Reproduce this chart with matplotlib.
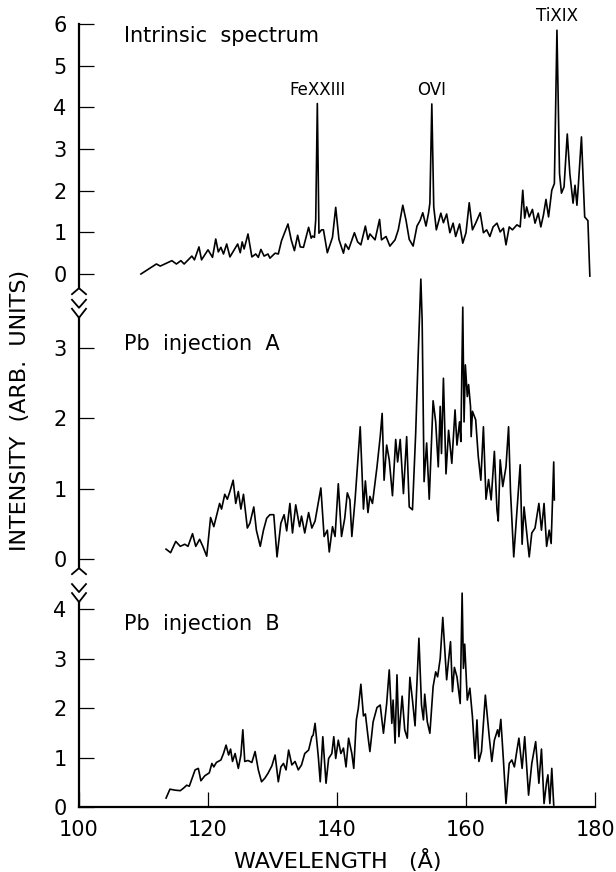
import matplotlib
matplotlib.use("Agg")
import matplotlib.pyplot as plt
import numpy as np

# intrinsic spectrum
wl_intr = [109.6, 112.0, 112.6, 114.4, 115.1, 115.8, 116.3, 117.5, 117.9, 118.6,
           119.0, 120.0, 120.7, 121.2, 121.6, 122.0, 122.4, 122.9, 123.4, 124.6,
           125.0, 125.3, 125.6, 126.2, 126.8, 127.4, 127.8, 128.2, 128.7, 129.3,
           129.6, 130.4, 130.9, 131.4, 132.4, 132.9, 133.4, 133.9, 134.3, 134.8,
           135.6, 136.0, 136.2, 136.5, 136.7, 136.95, 137.2, 137.6, 137.9, 138.5,
           139.3, 139.8, 140.3, 141.0, 141.3, 141.8, 142.7, 143.2, 143.7, 144.4,
           144.8, 145.1, 145.9, 146.6, 146.9, 147.6, 148.2, 149.0, 149.5, 150.2,
           150.7, 151.2, 151.8, 152.4, 152.9, 153.3, 153.8, 154.2, 154.4, 154.7,
           155.0, 155.4, 156.1, 156.5, 157.0, 157.5, 158.0, 158.4, 159.0, 159.5,
           160.0, 160.5, 161.0, 161.5, 162.2, 162.7, 163.2, 163.7, 164.2, 164.8,
           165.3, 165.8, 166.2, 166.7, 167.2, 167.9, 168.4, 168.8, 169.1, 169.4,
           169.8, 170.3, 170.7, 171.2, 171.6, 172.0, 172.4, 172.8, 173.3, 173.7,
           174.1, 174.5, 174.8, 175.2, 175.7, 176.1, 176.4, 176.6, 176.9, 177.2,
           177.4, 177.9, 178.4, 178.9, 179.2]
int_intr = [0.00, 0.24, 0.19, 0.32, 0.24, 0.32, 0.24, 0.43, 0.34, 0.65,
            0.34, 0.58, 0.40, 0.84, 0.53, 0.64, 0.48, 0.72, 0.41, 0.72,
            0.51, 0.77, 0.60, 0.96, 0.41, 0.48, 0.40, 0.59, 0.43, 0.48,
            0.38, 0.50, 0.48, 0.80, 1.20, 0.82, 0.56, 0.93, 0.65, 0.64,
            1.12, 0.86, 0.91, 0.88, 1.30, 4.09, 0.98, 1.06, 1.06, 0.51,
            0.88, 1.60, 0.83, 0.50, 0.72, 0.59, 0.99, 0.77, 0.70, 1.15,
            0.83, 0.96, 0.82, 1.31, 0.82, 0.90, 0.67, 0.82, 1.06, 1.65,
            1.29, 0.83, 0.67, 1.15, 1.29, 1.47, 1.15, 1.47, 1.70, 4.08,
            1.61, 1.06, 1.46, 1.23, 1.44, 0.99, 1.22, 0.90, 1.20, 0.74,
            0.99, 1.71, 1.06, 1.22, 1.47, 0.99, 1.06, 0.90, 1.13, 1.22,
            1.01, 1.10, 0.70, 1.13, 1.06, 1.18, 1.13, 2.01, 1.34, 1.61,
            1.37, 1.55, 1.22, 1.46, 1.13, 1.41, 1.79, 1.37, 2.01, 2.17,
            5.85, 2.41, 1.94, 2.09, 3.36, 2.41, 1.97, 1.70, 2.13, 1.65,
            2.09, 3.29, 1.37, 1.28, -0.05]

# Pb injection A
wl_a = [113.5, 114.2, 115.0, 115.7, 116.4, 116.9, 117.6, 118.1, 118.7, 119.2,
        119.8, 120.4, 120.9, 121.8, 122.1, 122.6, 123.0, 123.4, 123.9, 124.3,
        124.7, 125.1, 125.5, 126.1, 126.5, 127.1, 127.5, 128.1, 128.6, 129.1,
        129.6, 130.2, 130.7, 131.3, 131.8, 132.2, 132.7, 133.1, 133.6, 134.2,
        134.5, 135.0, 135.6, 136.1, 136.6, 137.5, 138.0, 138.5, 138.8, 139.3,
        139.7, 140.2, 140.7, 141.2, 141.6, 142.0, 142.3, 142.8, 143.6, 144.1,
        144.4, 144.8, 145.1, 145.5, 146.2, 146.7, 147.0, 147.3, 147.7, 148.1,
        148.6, 149.1, 149.4, 149.8, 150.3, 150.8, 151.2, 151.7, 152.2, 152.6,
        153.0, 153.2, 153.5, 153.9, 154.3, 154.9, 155.3, 155.7, 156.0, 156.2,
        156.5, 156.9, 157.3, 157.8, 158.3, 158.6, 159.0, 159.2, 159.5, 159.7,
        159.9, 160.2, 160.4, 160.7, 160.8, 161.0, 161.5, 161.9, 162.3, 162.7,
        163.1, 163.5, 163.9, 164.4, 164.8, 165.0, 165.3, 165.7, 166.2, 166.6,
        166.9, 167.4, 168.4, 168.7, 169.0, 169.8, 170.2, 170.7, 171.3, 171.7,
        172.1, 172.5, 172.9, 173.2, 173.6, 173.7]
int_a = [0.14, 0.09, 0.25, 0.18, 0.21, 0.18, 0.36, 0.18, 0.28, 0.18,
         0.04, 0.59, 0.46, 0.79, 0.71, 0.92, 0.85, 0.96, 1.12, 0.79,
         0.96, 0.71, 0.92, 0.44, 0.51, 0.74, 0.41, 0.18, 0.41, 0.58,
         0.63, 0.63, 0.03, 0.51, 0.63, 0.40, 0.79, 0.37, 0.77, 0.46,
         0.61, 0.37, 0.66, 0.44, 0.54, 1.01, 0.32, 0.41, 0.10, 0.46,
         0.32, 1.07, 0.32, 0.58, 0.94, 0.84, 0.32, 0.84, 1.88, 0.71,
         1.11, 0.66, 0.89, 0.79, 1.31, 1.74, 2.07, 1.12, 1.62, 1.41,
         0.90, 1.70, 1.38, 1.70, 0.93, 1.74, 0.74, 0.70, 1.79, 2.93,
         3.98, 3.40, 1.10, 1.65, 0.85, 2.25, 1.95, 1.31, 2.17, 1.50,
         2.57, 1.21, 1.83, 1.36, 2.12, 1.62, 1.95, 1.67, 3.58, 1.95,
         2.76, 2.31, 2.48, 2.17, 1.74, 2.10, 1.98, 1.46, 1.12, 1.88,
         0.85, 1.13, 0.84, 1.53, 0.70, 0.54, 1.41, 1.03, 1.31, 1.88,
         0.96, 0.03, 1.34, 0.21, 0.74, 0.03, 0.37, 0.44, 0.79, 0.41,
         0.79, 0.18, 0.41, 0.22, 1.38, 0.84]

# Pb injection B
wl_b = [113.5, 114.1, 114.9, 115.7, 116.2, 116.7, 117.1, 118.0, 118.5, 118.9,
        119.5, 120.2, 120.6, 120.9, 121.3, 122.0, 122.4, 122.8, 123.2, 123.5,
        123.8, 124.2, 124.7, 125.1, 125.4, 125.7, 126.2, 126.8, 127.3, 127.8,
        128.3, 128.8, 129.3, 129.9, 130.4, 130.9, 131.3, 131.7, 132.1, 132.5,
        133.0, 133.5, 134.0, 134.5, 135.0, 135.6, 136.1, 136.3, 136.6, 137.1,
        137.4, 137.8, 138.3, 138.7, 139.2, 139.5, 139.8, 140.2, 140.6, 141.0,
        141.4, 141.8, 142.3, 142.6, 143.0, 143.3, 143.7, 144.1, 144.4, 144.8,
        145.1, 145.6, 146.2, 146.7, 147.2, 147.7, 148.1, 148.5, 148.7, 149.0,
        149.3, 149.6, 150.1, 150.5, 150.9, 151.3, 151.7, 152.1, 152.7, 153.1,
        153.4, 153.6, 154.0, 154.4, 154.9, 155.3, 155.6, 156.0, 156.4, 156.8,
        157.0, 157.3, 157.6, 157.9, 158.2, 158.6, 159.1, 159.4, 159.6, 159.8,
        160.2, 160.6, 161.0, 161.4, 161.7, 162.0, 162.4, 163.0, 163.6, 164.0,
        164.4, 164.9, 165.1, 165.4, 165.8, 166.2, 166.7, 167.1, 167.5, 167.9,
        168.2, 168.7, 169.1, 169.7, 170.2, 170.8, 171.3, 171.7, 172.1, 172.5,
        172.7, 173.0, 173.3, 173.6]
int_b = [0.18, 0.36, 0.34, 0.33, 0.38, 0.44, 0.42, 0.75, 0.78, 0.53,
         0.63, 0.69, 0.88, 0.81, 0.90, 0.95, 1.08, 1.25, 1.05, 1.17,
         0.92, 1.08, 0.78, 1.05, 1.56, 0.92, 0.94, 0.90, 1.12, 0.75,
         0.51, 0.58, 0.68, 0.83, 1.05, 0.51, 0.81, 0.88, 0.75, 1.15,
         0.85, 0.92, 0.75, 0.85, 1.08, 1.15, 1.42, 1.45, 1.69, 1.02,
         0.51, 1.42, 0.48, 0.98, 1.08, 1.42, 0.98, 1.35, 1.08, 1.19,
         0.81, 1.39, 1.08, 0.78, 1.76, 1.99, 2.48, 1.84, 1.88, 1.43,
         1.12, 1.72, 2.01, 2.06, 1.49, 2.09, 2.77, 1.69, 2.16, 1.29,
         2.67, 1.42, 2.24, 1.56, 1.39, 2.62, 2.16, 1.64, 3.41, 2.06,
         1.76, 2.28, 1.72, 1.49, 2.43, 2.73, 2.63, 3.00, 3.83, 2.97,
         2.57, 2.97, 3.34, 2.33, 2.82, 2.63, 2.09, 4.32, 2.80, 3.29,
         2.16, 2.40, 1.82, 0.98, 1.76, 0.92, 1.12, 2.26, 1.42, 0.92,
         1.35, 1.56, 1.42, 1.77, 0.95, 0.07, 0.88, 0.95, 0.81, 1.15,
         1.39, 0.78, 1.42, 0.24, 0.88, 1.32, 0.48, 1.17, 0.07, 0.51,
         0.65, 0.07, 0.78, 0.04]

panel_titles = ["Intrinsic  spectrum", "Pb  injection  A", "Pb  injection  B"]
ticks_intr = [0, 1, 2, 3, 4, 5, 6]
ticks_a = [0, 1, 2, 3]
ticks_b = [0, 1, 2, 3, 4]
xticks = [100, 120, 140, 160, 180]
line_ids = [("FeXXIII", 136.95, 4.09), ("OVI", 154.7, 4.08), ("TiXIX", 174.1, 5.85)]

W, H = 616, 872
fig = plt.figure(figsize=(W / 100, H / 100), dpi=100)
fig.patch.set_facecolor("white")

X0, X1 = 79, 595


def add_panel(top_px, bot_px, zero_px, unit_px):
    # axes placed in pixel units measured from the top of the figure
    ax = fig.add_axes([X0 / W, 1 - bot_px / H, (X1 - X0) / W, (bot_px - top_px) / H])
    ax.set_xlim(100, 180)
    ax.set_ylim((zero_px - bot_px) / unit_px, (zero_px - top_px) / unit_px)
    ax.patch.set_alpha(0)
    for s in ("top", "right", "bottom"):
        ax.spines[s].set_visible(False)
    ax.spines["left"].set_linewidth(1.6)
    ax.tick_params(axis="y", direction="in", length=11, width=0.9,
                   labelsize=15, pad=9)
    ax.tick_params(axis="x", bottom=False, labelbottom=False)
    return ax


ax1 = add_panel(10, 300, 274, 41.67)
ax2 = add_panel(270, 575, 559, 70.33)
ax3 = add_panel(585, 807, 807, 49.5)

ax1.spines["left"].set_bounds(-0.34, 6)
ax2.spines["left"].set_bounds(-0.13, 3.43)
ax3.spines["left"].set_bounds(0, 4.14)

ax1.set_yticks(ticks_intr)
ax2.set_yticks(ticks_a)
ax3.set_yticks(ticks_b)

ax3.spines["bottom"].set_visible(True)
ax3.spines["bottom"].set_linewidth(1.6)
ax3.set_xticks(xticks)
ax3.tick_params(axis="x", bottom=True, labelbottom=True, direction="in",
                length=11, width=0.9, labelsize=15, pad=9)

kw = dict(color="black", lw=1.2, clip_on=False)
ax1.plot(wl_intr, int_intr, **kw)
ax2.plot(wl_a, int_a, **kw)
ax3.plot(wl_b, int_b, **kw)

for ax, title, ty in zip((ax1, ax2, ax3), panel_titles, (36, 344, 624)):
    fig.text(124 / W, 1 - ty / H, title, fontsize=15, va="center", ha="left")

for name, wl, peak in line_ids:
    ax1.text(wl, peak + 0.12, name, fontsize=12, ha="center", va="bottom")


def zigzag(ax, wl, yval, pts):
    # draws a break mark given as pixel offsets around an axis point
    bx, by = ax.transData.transform((wl, yval))
    disp = np.array([(bx + dx, by - dy) for dx, dy in pts])
    data = ax.transData.inverted().transform(disp)
    ax.plot(data[:, 0], data[:, 1], color="black", lw=1.3, clip_on=False)


# breaks in the intensity axis between panels
zigzag(ax1, 100, -0.34, [(-7, 6), (0, 0), (7, 6)])
zigzag(ax2, 100, 3.43, [(-7, -18), (0, -10), (7, -18)])
zigzag(ax2, 100, 3.43, [(-7, -9), (0, 0), (7, -9)])
zigzag(ax2, 100, -0.13, [(-7, 6), (0, 0), (7, 6)])
zigzag(ax3, 100, 4.14, [(-7, -18), (0, -10), (7, -18)])
zigzag(ax3, 100, 4.14, [(-7, -9), (0, 0), (7, -9)])

fig.text(338 / W, 1 - 860 / H, "WAVELENGTH   (Å)", fontsize=16, ha="center", va="center")
fig.text(20 / W, 1 - 410 / H, "INTENSITY  (ARB.  UNITS)", fontsize=16,
         ha="center", va="center", rotation=90)

fig.savefig("out.png", dpi=100)
